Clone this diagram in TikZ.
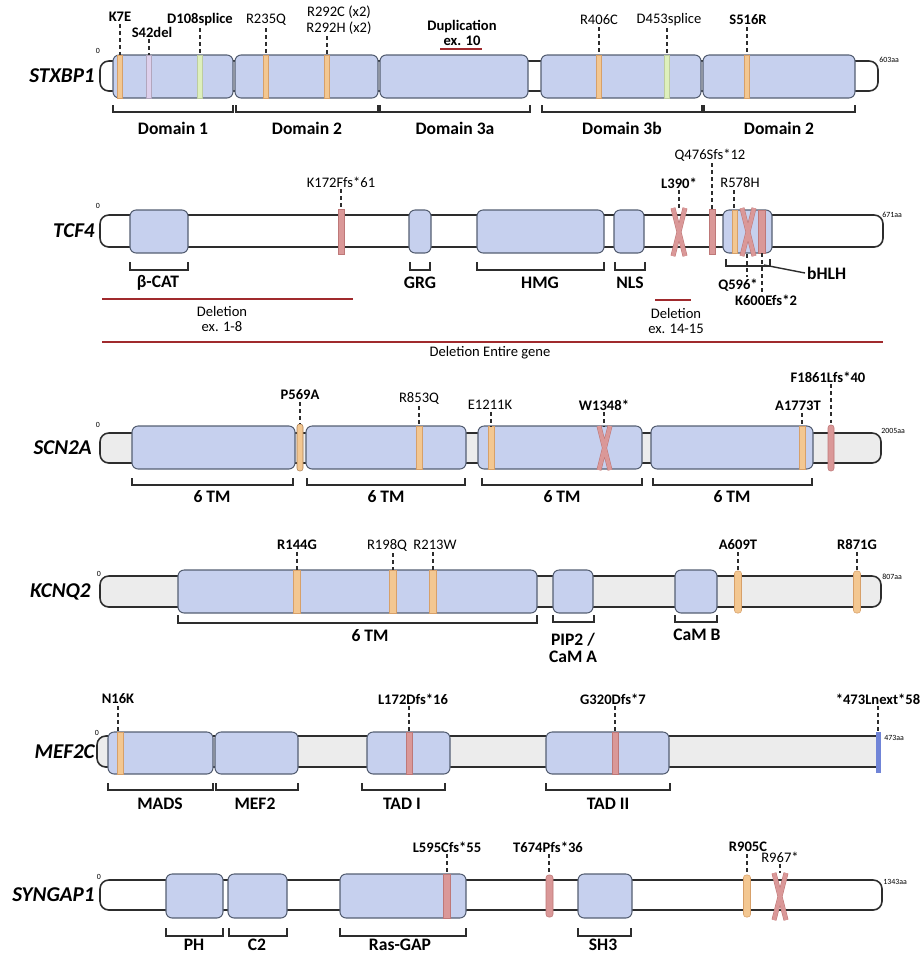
\documentclass[tikz,border=0pt]{standalone}
\usepackage{fontspec}
\setmainfont{Carlito}
\usepackage{xcolor}
\usepackage{tikz}
\definecolor{domfill}{RGB}{198,208,238}
\definecolor{domline}{RGB}{85,95,115}
\definecolor{chainline}{RGB}{45,45,45}
\definecolor{chaingrey}{RGB}{236,236,236}
\definecolor{orangecol}{RGB}{243,199,145}
\definecolor{orangeedge}{RGB}{215,160,105}
\definecolor{pinkcol}{RGB}{218,152,152}
\definecolor{pinkedge}{RGB}{190,120,120}
\definecolor{lilaccol}{RGB}{222,208,236}
\definecolor{greencol}{RGB}{222,240,188}
\definecolor{delred}{RGB}{160,42,45}
\definecolor{endblue}{RGB}{112,132,215}

\begin{document}
\begin{tikzpicture}[x=0.02cm,y=-0.02cm,
gene/.style={anchor=east,inner sep=0pt,font=\fontsize{12}{14}\selectfont\bfseries\itshape},
mut/.style={inner sep=1pt,align=center,font=\fontsize{8.3}{9}\selectfont},
mutb/.style={inner sep=1pt,align=center,font=\fontsize{8.3}{9}\selectfont\bfseries},
dlab/.style={inner sep=1pt,align=center,font=\fontsize{10}{10}\selectfont\bfseries},
aalab/.style={anchor=west,inner sep=0pt,font=\fontsize{4.5}{5}\selectfont},
zlab/.style={inner sep=0pt,font=\fontsize{4.5}{5}\selectfont},
chain/.style={draw=chainline,line width=0.9pt,rounded corners=5pt},
dombox/.style={draw=domline,fill=domfill,line width=0.6pt,rounded corners=3.5pt},
oband/.style={fill=orangecol,draw=orangeedge,line width=0.3pt},
pband/.style={fill=pinkcol,draw=pinkedge,line width=0.3pt},
lband/.style={fill=lilaccol,draw=lilaccol!80!black,line width=0.2pt},
gband/.style={fill=greencol,draw=greencol!85!black,line width=0.2pt},
xmark/.style={draw=pinkedge,double=pinkcol,double distance=2.2pt,line width=0.3pt},
pin/.style={draw=chainline,line width=1pt,dash pattern=on 2.2pt off 1.8pt},
brk/.style={draw=chainline,line width=0.8pt},
delline/.style={draw=delred,line width=1.7pt}]
\useasboundingbox (0,0) rectangle (920,954);

% STXBP1
\node[gene] (stxbp1) at (95,76) {STXBP1};
\node[zlab] (stxbp1-0) at (98,51) {0};
\draw[chain,fill=white] (100,61) rectangle (878,91);
\node[aalab] (stxbp1-aa) at (879,60) {603aa};
\draw[dombox] (113,55) rectangle (233,98) (235,55) rectangle (378,98) (380,55) rectangle (528,98)
(541,55) rectangle (701,98) (703,55) rectangle (855,98);
\draw[oband] (117.5,55) rectangle (122.5,98) (263.5,55) rectangle (268.5,98) (324.5,55) rectangle (329.5,98)
(596.5,55) rectangle (601.5,98) (744.5,55) rectangle (749.5,98);
\draw[lband] (146.5,55) rectangle (151.5,98);
\draw[gband] (197.5,55) rectangle (202.5,98) (664.5,55) rectangle (669.5,98);
\coordinate (k7e-x) at (120,55);
\coordinate (s42del-x) at (149,55);
\coordinate (d108-x) at (200,55);
\coordinate (r235q-x) at (266,55);
\coordinate (r292-x) at (327,55);
\coordinate (r406c-x) at (599,55);
\coordinate (d453-x) at (667,55);
\coordinate (s516r-x) at (747,55);
\node[mutb] (k7e) at (120,17) {K7E};
\node[mutb] (s42del) at (152,32) {S42del};
\node[mutb] (d108) at (200,20) {D108splice};
\node[mut] (r235q) at (266,20) {R235Q};
\node[mut] (r292) at (339,20) {R292C (x2)\\R292H (x2)};
\node[mutb] (dup) at (462,33) {Duplication\\ex. 10};
\node[mut] (r406c) at (599,20) {R406C};
\node[mut] (d453) at (669,20) {D453splice};
\node[mutb] (s516r) at (748,20) {S516R};
\draw[delline] (440,49) -- (482,49);
\draw[pin] (k7e.south -| k7e-x) -- (k7e-x);
\draw[pin] (s42del.south -| s42del-x) -- (s42del-x);
\draw[pin] (d108.south -| d108-x) -- (d108-x);
\draw[pin] (r235q.south -| r235q-x) -- (r235q-x);
\draw[pin] (r292.south -| r292-x) -- (r292-x);
\draw[pin] (r406c.south -| r406c-x) -- (r406c-x);
\draw[pin] (d453.south -| d453-x) -- (d453-x);
\draw[pin] (s516r.south -| s516r-x) -- (s516r-x);
\draw[brk] (113,105) -- (113,112) -- (233,112) -- (233,105)
(236,105) -- (236,112) -- (378,112) -- (378,105)
(380,105) -- (380,112) -- (530,112) -- (530,105)
(542,105) -- (542,112) -- (702,112) -- (702,105)
(704,105) -- (704,112) -- (855,112) -- (855,105);
\node[dlab] (stx-d1) at (173,128) {Domain 1};
\node[dlab] (stx-d2) at (307,128) {Domain 2};
\node[dlab] (stx-d3a) at (455,128) {Domain 3a};
\node[dlab] (stx-d3b) at (622,128) {Domain 3b};
\node[dlab] (stx-d2b) at (779,128) {Domain 2};

% TCF4
\node[gene] (tcf4) at (95,231) {TCF4};
\node[zlab] (tcf4-0) at (98,206) {0};
\draw[chain,fill=white] (100,215) rectangle (883,247);
\node[aalab] (tcf4-aa) at (882,215) {671aa};
\draw[dombox] (130,210) rectangle (188,253) (409,210) rectangle (431,253) (477,210) rectangle (604,253)
(614,210) rectangle (644,253) (723,210) rectangle (772,253);
\draw[pband] (338,209) rectangle (344,254) (709,209) rectangle (715,254) (758.5,210) rectangle (765.5,253);
\draw[oband] (732.5,210) rectangle (737.5,253);
\draw[xmark] (673,208) -- (685,256) (685,208) -- (673,256);
\draw[xmark] (742,208) -- (754,256) (754,208) -- (742,256);
\coordinate (k172-x) at (341,209);
\coordinate (l390-x) at (679,208);
\coordinate (q476-x) at (712,209);
\coordinate (r578h-x) at (734,210);
\coordinate (q596-x) at (747,254);
\coordinate (k600-x) at (762,253);
\node[mut] (k172) at (341,182) {K172Ffs*61};
\node[mutb] (l390) at (679,183) {L390*};
\node[mut] (q476) at (710,155) {Q476Sfs*12};
\node[mut] (r578h) at (740,183) {R578H};
\node[mutb] (q596) at (738,285) {Q596*};
\node[mutb] (k600) at (766,300) {K600Efs*2};
\draw[pin] (k172.south -| k172-x) -- (k172-x);
\draw[pin] (l390.south -| l390-x) -- (l390-x);
\draw[pin] (q476.south -| q476-x) -- (q476-x);
\draw[pin] (r578h.south -| r578h-x) -- (r578h-x);
\draw[pin] (q596-x) -- (q596.north east -| q596-x);
\draw[pin] (k600-x) -- (k600.north -| k600-x);
\draw[brk] (130,262) -- (130,270) -- (188,270) -- (188,262)
(410,262) -- (410,270) -- (430,270) -- (430,262)
(477,262) -- (477,270) -- (604,270) -- (604,262)
(615,262) -- (615,270) -- (645,270) -- (645,262)
(726,259) -- (726,266) -- (770,266) -- (770,259);
\node[dlab] (bcat) at (158,283) {β-CAT};
\node[dlab] (grg) at (420,283) {GRG};
\node[dlab] (hmg) at (540,283) {HMG};
\node[dlab] (nls) at (630,283) {NLS};
\node[dlab,anchor=west] (bhlh) at (805,273) {bHLH};
\coordinate (bhlh-b) at (764,265);
\draw[brk] (bhlh-b) -- (bhlh.west);
\draw[delline] (102,299) -- (353,299);
\node[mut] (del18) at (222,319) {Deletion\\ex. 1-8};
\draw[delline] (655,300) -- (691,300);
\node[mut] (del1415) at (676,321) {Deletion\\ex. 14-15};
\draw[delline] (102,342) -- (883,342);
\node[mut] (delall) at (490,353) {Deletion Entire gene};

% SCN2A
\node[gene] (scn2a) at (92,448) {SCN2A};
\node[zlab] (scn2a-0) at (98,425) {0};
\draw[chain,fill=chaingrey] (100,433) rectangle (881,463);
\node[aalab] (scn2a-aa) at (881,431) {2005aa};
\draw[dombox] (132,426) rectangle (295,469) (306,426) rectangle (466,469) (478,426) rectangle (642,469)
(651,426) rectangle (813,469);
\draw[oband,draw=orangeedge!80!black,rounded corners=1.5pt] (297,424) rectangle (303,471);
\draw[oband] (416,426) rectangle (422,469) (488,426) rectangle (494,469) (799,426) rectangle (805,469);
\draw[pband,rounded corners=1.5pt] (828,425) rectangle (834,471);
\draw[xmark] (599,426) -- (610,470) (610,426) -- (599,470);
\coordinate (p569a-x) at (300,424);
\coordinate (r853q-x) at (419,426);
\coordinate (e1211k-x) at (491,426);
\coordinate (w1348-x) at (604,427);
\coordinate (a1773t-x) at (802,426);
\coordinate (f1861-x) at (831,425);
\node[mutb] (p569a) at (300,395) {P569A};
\node[mut] (r853q) at (419,398) {R853Q};
\node[mut] (e1211k) at (490,405) {E1211K};
\node[mutb] (w1348) at (604,405) {W1348*};
\node[mutb] (a1773t) at (798,406) {A1773T};
\node[mutb] (f1861) at (828,377) {F1861Lfs*40};
\draw[pin] (p569a.south -| p569a-x) -- (p569a-x);
\draw[pin] (r853q.south -| r853q-x) -- (r853q-x);
\draw[pin] (e1211k.south -| e1211k-x) -- (e1211k-x);
\draw[pin] (w1348.south -| w1348-x) -- (w1348-x);
\draw[pin] (a1773t.south -| a1773t-x) -- (a1773t-x);
\draw[pin] (f1861.south -| f1861-x) -- (f1861-x);
\draw[brk] (132,478) -- (132,485) -- (293,485) -- (293,478)
(307,478) -- (307,485) -- (465,485) -- (465,478)
(482,478) -- (482,485) -- (642,485) -- (642,478)
(653,478) -- (653,485) -- (812,485) -- (812,478);
\node[dlab] (scn-tm1) at (212,497) {6 TM};
\node[dlab] (scn-tm2) at (386,497) {6 TM};
\node[dlab] (scn-tm3) at (562,497) {6 TM};
\node[dlab] (scn-tm4) at (732,497) {6 TM};

% KCNQ2
\node[gene] (kcnq2) at (91,592) {KCNQ2};
\node[zlab] (kcnq2-0) at (99,574) {0};
\draw[chain,fill=chaingrey] (100,576) rectangle (881,607);
\node[aalab] (kcnq2-aa) at (882,577) {807aa};
\draw[dombox] (178,570) rectangle (537,613) (553,570) rectangle (593,613) (675,570) rectangle (717,613);
\draw[oband] (293.5,570) rectangle (300.5,613) (389.5,570) rectangle (396.5,613) (429.5,570) rectangle (436.5,613);
\draw[oband,rounded corners=1.5pt] (734.5,571) rectangle (741.5,613) (853.5,571) rectangle (860.5,613);
\coordinate (r144g-x) at (297,570);
\coordinate (r198q-x) at (393,570);
\coordinate (r213w-x) at (433,570);
\coordinate (a609t-x) at (738,571);
\coordinate (r871g-x) at (857,571);
\node[mutb] (r144g) at (297,545) {R144G};
\node[mut] (r198q) at (387,545) {R198Q};
\node[mut] (r213w) at (435,545) {R213W};
\node[mutb] (a609t) at (738,545) {A609T};
\node[mutb] (r871g) at (857,545) {R871G};
\draw[pin] (r144g.south -| r144g-x) -- (r144g-x);
\draw[pin] (r198q.south -| r198q-x) -- (r198q-x);
\draw[pin] (r213w.south -| r213w-x) -- (r213w-x);
\draw[pin] (a609t.south -| a609t-x) -- (a609t-x);
\draw[pin] (r871g.south -| r871g-x) -- (r871g-x);
\draw[brk] (178,615) -- (178,623) -- (537,623) -- (537,615)
(553,615) -- (553,622) -- (594,622) -- (594,615)
(675,615) -- (675,622) -- (717,622) -- (717,615);
\node[dlab] (kcn-tm) at (370,636) {6 TM};
\node[dlab] (pip2) at (573,648) {PIP2 /\\CaM A};
\node[dlab] (camb) at (697,635) {CaM B};

% MEF2C
\node[gene] (mef2c) at (95,752) {MEF2C};
\node[zlab] (mef2c-0) at (97,733) {0};
\draw[chain,fill=chaingrey] (877,736) -- (97,736) -- (97,767) -- (877,767);
\fill[endblue] (876,732) rectangle (881,773);
\node[aalab] (mef2c-aa) at (884,738) {473aa};
\draw[dombox] (108,732) rectangle (213,774) (215,732) rectangle (298,774) (367,732) rectangle (450,774)
(546,732) rectangle (669,774);
\draw[oband] (117,732) rectangle (123,774);
\draw[pband] (406,732) rectangle (412,774) (612,732) rectangle (618,774);
\coordinate (n16k-x) at (118,732);
\coordinate (l172-x) at (409,732);
\coordinate (g320-x) at (615,732);
\coordinate (end473-x) at (878,732);
\node[mutb] (n16k) at (118,699) {N16K};
\node[mutb] (l172) at (413,699) {L172Dfs*16};
\node[mutb] (g320) at (613,699) {G320Dfs*7};
\node[mutb] (end473) at (878,699) {*473Lnext*58};
\draw[pin] (n16k.south -| n16k-x) -- (n16k-x);
\draw[pin] (l172.south -| l172-x) -- (l172-x);
\draw[pin] (g320.south -| g320-x) -- (g320-x);
\draw[pin] (end473.south -| end473-x) -- (end473-x);
\draw[brk] (108,783) -- (108,790) -- (213,790) -- (213,783)
(216,783) -- (216,790) -- (298,790) -- (298,783)
(362,783) -- (362,790) -- (445,790) -- (445,783)
(546,783) -- (546,790) -- (670,790) -- (670,783);
\node[dlab] (mads) at (160,804) {MADS};
\node[dlab] (mef2) at (255,804) {MEF2};
\node[dlab] (tad1) at (402,804) {TAD I};
\node[dlab] (tad2) at (608,804) {TAD II};

% SYNGAP1
\node[gene] (syngap1) at (95,895) {SYNGAP1};
\node[zlab] (syngap1-0) at (99,877) {0};
\draw[chain,fill=white] (100,880) rectangle (882,910);
\node[aalab] (syngap1-aa) at (883,882) {1343aa};
\draw[dombox] (166,874) rectangle (223,918) (228,874) rectangle (287,918) (340,874) rectangle (466,918)
(578,874) rectangle (632,918);
\draw[pband] (443.5,874) rectangle (450.5,918);
\draw[pband,rounded corners=1.5pt] (546,875) rectangle (553,917);
\draw[oband,rounded corners=1.5pt] (743.5,875) rectangle (750.5,917);
\draw[xmark] (774,873) -- (786,920) (786,873) -- (774,920);
\coordinate (l595-x) at (447,874);
\coordinate (t674-x) at (549,875);
\coordinate (r905c-x) at (747,875);
\coordinate (r967-x) at (780,873);
\node[mutb] (l595) at (447,847) {L595Cfs*55};
\node[mutb] (t674) at (548,847) {T674Pfs*36};
\node[mutb] (r905c) at (748,847) {R905C};
\node[mut] (r967) at (780,857) {R967*};
\draw[pin] (l595.south -| l595-x) -- (l595-x);
\draw[pin] (t674.south -| t674-x) -- (t674-x);
\draw[pin] (r905c.south -| r905c-x) -- (r905c-x);
\draw[pin] (r967.south -| r967-x) -- (r967-x);
\draw[brk] (166,928) -- (166,936) -- (223,936) -- (223,928)
(229,928) -- (229,936) -- (287,936) -- (287,928)
(340,928) -- (340,936) -- (466,936) -- (466,928)
(578,928) -- (578,936) -- (631,936) -- (631,928);
\node[dlab] (ph) at (194,945) {PH};
\node[dlab] (c2) at (257,945) {C2};
\node[dlab] (rasgap) at (400,945) {Ras-GAP};
\node[dlab] (sh3) at (603,945) {SH3};
\end{tikzpicture}
\end{document}
